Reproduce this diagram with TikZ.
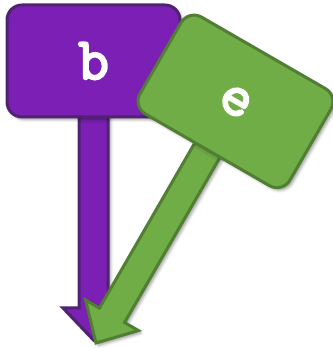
\documentclass[tikz,border=0pt]{standalone}
\usepackage{fontspec}
\newfontfamily\signfont{Latin Modern Mono}[FakeBold=3.5]
\usetikzlibrary{shadows.blur}
\definecolor{purplefill}{HTML}{7B1FB5}
\definecolor{purpleline}{HTML}{4F236F}
\definecolor{greenfill}{HTML}{70AD47}
\definecolor{greenline}{HTML}{507E32}

\begin{document}
\begin{tikzpicture}[x=1pt, y=1pt, line width=3pt,
  signshape/.style={blur shadow={shadow xshift=2.5pt, shadow yshift=-2.5pt, shadow blur radius=3pt}},
  signtext/.style={text=white, font=\signfont\fontsize{60}{60}\selectfont}]
  \useasboundingbox (0,0) rectangle (332,348);
  % purple sign, upright
  \begin{scope}[shift={(93.5,8)}]
    \draw[signshape, fill=purplefill, draw=purpleline] (-14.5,230) -- (-14.5,32) -- (-30.5,32) -- (0,0) -- (30.5,32) -- (14.5,32) -- (14.5,230) -- cycle;
    \draw[signshape, fill=purplefill, draw=purpleline, rounded corners=15pt] (-86.5,223) rectangle (86.5,335);
    \node[signtext] (b) at (0,279) {b};
  \end{scope}
  % green sign, tilted about its tip
  \begin{scope}[shift={(96,5)}, rotate=-30]
    \draw[signshape, fill=greenfill, draw=greenline] (-14.5,230) -- (-14.5,32) -- (-30.5,32) -- (0,0) -- (30.5,32) -- (14.5,32) -- (14.5,230) -- cycle;
    \draw[signshape, fill=greenfill, draw=greenline, rounded corners=15pt] (-86.5,223) rectangle (86.5,335);
    \node[signtext, rotate=-30] (e) at (0,279) {e};
  \end{scope}
\end{tikzpicture}
\end{document}
